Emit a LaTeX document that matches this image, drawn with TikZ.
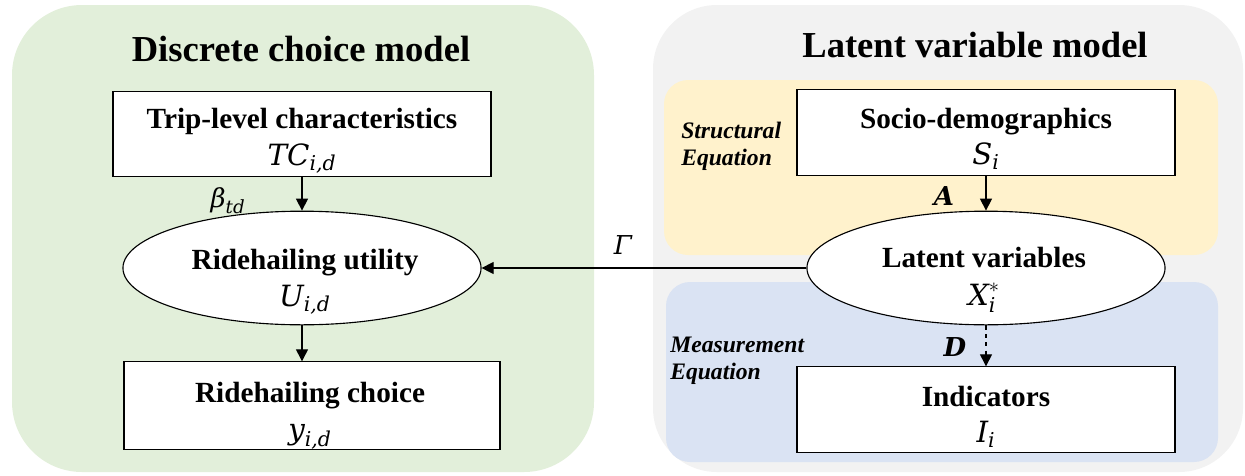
\RequirePackage{fix-cm}
\documentclass[tikz,border=0pt]{standalone}
\usepackage{amsmath}
\usepackage{fontspec}
\setmainfont{Liberation Serif}
\newfontfamily\mvfont{DejaVu Serif}
\newcommand\mv[1]{\text{\mvfont\itshape #1}}
\usetikzlibrary{arrows.meta,shapes.geometric}
\definecolor{greenbg}{HTML}{E2EFDA}
\definecolor{graybg}{HTML}{F2F2F2}
\definecolor{yellowbg}{HTML}{FFF2CC}
\definecolor{bluebg}{HTML}{DAE3F3}
\tikzset{
  titletext/.style={font=\fontsize{26}{30}\selectfont\bfseries},
  boxnode/.style={draw=black, line width=0.8pt, fill=white, minimum width=9.45cm, minimum height=2.13cm, align=center, inner sep=0pt},
  ellnode/.style={draw=black, line width=0.8pt, fill=white, ellipse, minimum width=8.95cm, minimum height=2.84cm, inner sep=0pt},
  boxtext/.style={align=center, font=\fontsize{20.8}{26}\selectfont},
  sidetext/.style={align=left, font=\fontsize{16.8}{19}\selectfont\bfseries\itshape, anchor=west, inner sep=0pt},
  arrowline/.style={line width=0.8pt, -{Triangle[length=3mm,width=3mm]}},
  edgelabel/.style={font=\fontsize{18.5}{22}\selectfont, inner sep=0pt},
}
\begin{document}
\begin{tikzpicture}[x=0.025cm, y=-0.025cm]
\useasboundingbox (0,0) rectangle (1245,475);
% panels
\fill[greenbg, rounded corners=1.75cm] (12,5) rectangle (594,472);
\fill[graybg, rounded corners=1.6cm] (653,5) rectangle (1243,472);
\fill[yellowbg, rounded corners=0.6cm] (664,80) rectangle (1218,255);
\fill[bluebg, rounded corners=0.6cm] (666,282) rectangle (1218,462);
% titles
\node[titletext] (t1) at (301,49) {Discrete choice model};
\node[titletext] (t2) at (975,45) {Latent variable model};
% side labels
\node[sidetext] (struct) at (681,146) {Structural\\Equation};
\node[sidetext] (meas) at (670,361) {Measurement\\Equation};
% left nodes
\node[boxnode] (trip) at (302,134) {};
\node[boxtext] (triptext) at (302,141) {\textbf{Trip-level characteristics}\\$\mv{TC}_{\mv{i,d}}$};
\node[ellnode] (util) at (302,268) {};
\node[boxtext] (utiltext) at (305,282) {\textbf{Ridehailing utility}\\$\mv{U}_{\mv{i,d}}$};
\node[boxnode, minimum width=9.4cm, minimum height=2.18cm] (choice) at (312,405.5) {};
\node[boxtext] (choicetext) at (310,416) {\textbf{Ridehailing choice}\\$\mv{y}_{\mv{i,d}}$};
% right nodes
\node[boxnode] (socio) at (986,132.5) {};
\node[boxtext] (sociotext) at (986,139) {\textbf{Socio-demographics}\\$\mv{S}_{\mv{i}}$};
\node[ellnode] (latent) at (986,268) {};
\node[boxtext] (latenttext) at (984,280) {\textbf{Latent variables}\\[1pt]$\mv{X}_{\mv{i}}^{*}$};
\node[boxnode] (ind) at (986,409.5) {};
\node[boxtext] (indtext) at (986,417) {\textbf{Indicators}\\$\mv{I}_{\mv{i}}$};
% connectors
\draw[arrowline] (trip.south) -- (util.north);
\draw[arrowline] (util.south) -- (util.south |- choice.north);
\draw[arrowline] (socio.south) -- (latent.north);
\draw[arrowline, dashed] (latent.south) -- (latent.south |- ind.north);
\draw[arrowline] (latent.west) -- (util.east);
% edge labels
\node[edgelabel] (beta) at (228,201) {$\mv{β}_{\mv{td}}$};
\node[edgelabel] (gamma) at (623,245) {$\mv{Γ}$};
\node[edgelabel] (alab) at (944,196) {{\mvfont\bfseries\itshape A}};
\node[edgelabel] (dlab) at (955,347) {{\mvfont\bfseries\itshape D}};
\end{tikzpicture}
\end{document}
